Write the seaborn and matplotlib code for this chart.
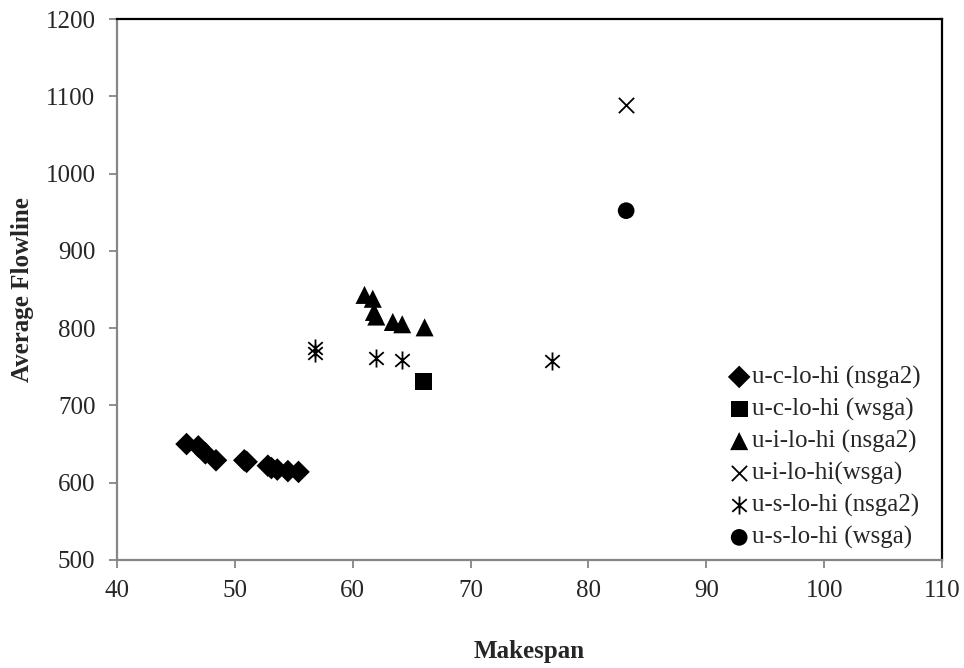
import matplotlib
matplotlib.use("Agg")
import matplotlib.pyplot as plt
from matplotlib.path import Path
import pandas as pd
import seaborn as sns

# series values
ucn_x = [45.9, 46.9, 47.5, 48.4, 50.8, 51.0, 52.8, 53.1, 53.6, 54.5, 55.4]
ucn_y = [650, 647, 638, 629, 629, 627, 622, 619, 617, 615, 614]
ucw_x = [66.0]
ucw_y = [731]
uin_x = [61.0, 61.7, 61.8, 62.0, 63.4, 64.2, 66.1]
uin_y = [843, 838, 821, 815, 808, 805, 801]
uiw_x = [83.2]
uiw_y = [1089]
usn_x = [56.8, 56.8, 62.0, 64.2, 76.9]
usn_y = [774, 768, 762, 759, 757]
usw_x = [83.2]
usw_y = [952]

labels = ["u-c-lo-hi (nsga2)", "u-c-lo-hi (wsga)", "u-i-lo-hi (nsga2)",
          "u-i-lo-hi(wsga)", "u-s-lo-hi (nsga2)", "u-s-lo-hi (wsga)"]

x_ticks = [40, 50, 60, 70, 80, 90, 100, 110]
y_ticks = [500, 600, 700, 800, 900, 1000, 1100, 1200]

sns.set_style("white")
plt.rcParams['font.family'] = ['Liberation Serif', 'DejaVu Serif']
FS = 18

# asterisk: vertical bar plus an x
star = Path([(0, -1), (0, 1), (-0.8, -0.7), (0.8, 0.7), (-0.8, 0.7), (0.8, -0.7)],
            [Path.MOVETO, Path.LINETO, Path.MOVETO, Path.LINETO, Path.MOVETO, Path.LINETO])

series = [
    (ucn_x, ucn_y, "D", 11.5, True),
    (ucw_x, ucw_y, "s", 12, True),
    (uin_x, uin_y, "^", 13, True),
    (uiw_x, uiw_y, "x", 11, False),
    (usn_x, usn_y, star, 13, False),
    (usw_x, usw_y, "o", 12, True),
]

fig = plt.figure(figsize=(9.64, 6.68), dpi=100)
ax = fig.add_axes([117 / 964, 1 - 560 / 668, 825 / 964, 541 / 668])

for (xs, ys, mk, size, filled), lab in zip(series, labels):
    df = pd.DataFrame({"Makespan": xs, "Average Flowline": ys})
    if filled:
        sns.scatterplot(data=df, x="Makespan", y="Average Flowline", ax=ax,
                        marker=mk, s=size ** 2, color="black", edgecolor="none",
                        linewidth=0, label=lab, zorder=3)
    else:
        sns.scatterplot(data=df, x="Makespan", y="Average Flowline", ax=ax,
                        marker=mk, s=size ** 2, color="black", edgecolor="black",
                        linewidth=1.3, label=lab, zorder=3)

ax.set_xlim(40, 110)
ax.set_ylim(500, 1200)
ax.set_xticks(x_ticks)
ax.set_yticks(y_ticks)
ax.tick_params(axis="both", labelsize=FS, length=5.5, width=1.3, color="#868686",
               direction="out", bottom=True, left=True)
ax.tick_params(axis="x", pad=9)
ax.tick_params(axis="y", pad=10)

for side in ["left", "bottom"]:
    ax.spines[side].set_color("#868686")
    ax.spines[side].set_linewidth(1.6)
for side in ["top", "right"]:
    ax.spines[side].set_color("black")
    ax.spines[side].set_linewidth(1.6)
    ax.spines[side].set_visible(True)

ax.set_xlabel("Makespan", fontsize=FS, fontweight="bold", labelpad=27)
ax.set_ylabel("Average Flowline", fontsize=FS, fontweight="bold", labelpad=8)

leg = ax.legend(loc="center left", bbox_to_anchor=(0.759, 0.315),
                bbox_transform=fig.transFigure, frameon=False, fontsize=FS,
                handlelength=0.6, handletextpad=0.2, labelspacing=0.36,
                borderpad=0, borderaxespad=0, markerscale=1.0)

fig.savefig("out.png", dpi=100)
